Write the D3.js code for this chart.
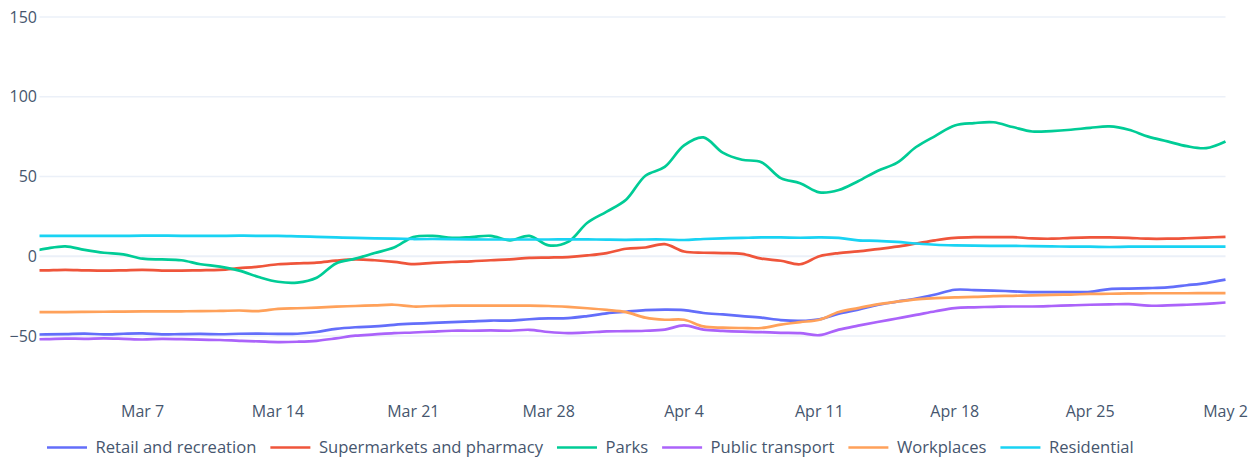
<!DOCTYPE html>
<html>
<head>
<meta charset="utf-8">
<script src="https://cdn.jsdelivr.net/npm/d3@7"></script>
<style>
  body { margin: 0; background: #fff; }
  text { font-family: "Open Sans", sans-serif; }
</style>
</head>
<body>
<script>
'use strict';

var width = 1260,
    height = 460;

// daily values, Mar 1 .. May 2 2020
var startDate = new Date(2020, 2, 1);

var seriesNames = ["Retail and recreation", "Supermarkets and pharmacy", "Parks",
                   "Public transport", "Workplaces", "Residential"];
var seriesColors = ["#636efa", "#ef553b", "#00cc96", "#ab63fa", "#ffa15a", "#19d3f3"];

var retail = [-49.2, -49, -48.8, -48.5, -49, -48.6, -48.4, -49, -48.8, -48.7,
  -48.9, -48.6, -48.5, -48.7, -48.6, -47.5, -45.5, -44.5, -44, -43,
  -42.3, -41.8, -41.3, -40.8, -40.3, -40.3, -39.5, -39, -38.8, -37.5,
  -35.8, -34.8, -33.8, -33.5, -33.8, -35.6, -36.5, -37.5, -38.5, -40,
  -40.5, -39.5, -36, -33.5, -30.5, -28.5, -26.5, -24, -21, -21.2,
  -21.5, -22, -22.5, -22.5, -22.5, -22.3, -20.6, -20.3, -20, -19.5,
  -18.2, -16.8, -14.7];

var grocery = [-9, -8.8, -8.5, -8.8, -9, -8.8, -8.5, -9, -9, -8.8,
  -8.5, -7.5, -6.5, -5, -4.5, -4, -2.8, -2, -2.5, -3.5,
  -4.9, -4.2, -3.6, -3.2, -2.5, -2, -1, -0.8, -0.5, 0.5,
  2, 4.7, 5.5, 7.6, 3, 2.2, 2, 1.5, -1.5, -2.8,
  -5, 0, 2, 3, 4.5, 6, 8, 10, 11.5, 12,
  12, 12, 11.2, 11, 11.5, 11.8, 11.8, 11.5, 11, 11,
  11.3, 11.7, 12.2];

var parks = [2.5, 4.8, 6.2, 4, 2.2, 1.2, -1.5, -2, -2.5, -5,
  -6.5, -9, -13, -16, -16.5, -13.5, -4.5, -1.5, 2, 5.5,
  12, 12.8, 11.5, 12, 12.8, 10, 12.8, 6.8, 9, 21,
  28, 35.4, 50.5, 56, 69.5, 74.5, 65, 60.5, 59, 49,
  45.8, 40, 41.5, 47, 53.5, 58.5, 68.5, 75.5, 82, 83.5,
  84, 81, 78.2, 78.5, 79.3, 80.5, 81.4, 79.3, 75, 72,
  69, 67.8, 72];

var transit = [-52, -52, -51.6, -51.8, -51.5, -51.8, -52.2, -51.8, -52, -52.3,
  -52.5, -53, -53.4, -53.8, -53.6, -53, -51.5, -49.8, -49, -48.2,
  -47.8, -47.2, -46.7, -46.7, -46.5, -46.7, -46.1, -47.5, -48.2, -47.8,
  -47.1, -47, -46.7, -46, -43.4, -46, -46.8, -47.3, -47.6, -48,
  -48.2, -49.5, -46, -43.5, -41.2, -39, -36.8, -34.5, -32.5, -32,
  -31.7, -31.5, -31.5, -31.2, -30.8, -30.4, -30.2, -30, -31, -30.8,
  -30.4, -29.8, -29];

var workplaces = [-35, -35, -35, -34.9, -34.8, -34.7, -34.6, -34.5, -34.5, -34.4,
  -34.3, -34, -34.4, -33, -32.6, -32.2, -31.6, -31.2, -30.8, -30.4,
  -31.5, -31.2, -31, -30.9, -30.9, -31, -31, -31.2, -31.8, -32.6,
  -33.6, -35, -38.5, -39.8, -39.8, -44, -44.8, -45, -45, -42.9,
  -41.3, -39.8, -35, -32.5, -30.2, -28.5, -27, -26.3, -25.8, -25.5,
  -25, -24.8, -24.5, -24.2, -24, -23.6, -23.5, -23.3, -23.2, -23.2,
  -23.2, -23.1, -23.1];

var residential = [12.8, 12.8, 12.8, 12.8, 12.8, 12.8, 12.9, 12.9, 12.8, 12.8,
  12.8, 12.9, 12.8, 12.8, 12.5, 12.2, 11.8, 11.5, 11.2, 11,
  10.8, 10.8, 10.7, 10.6, 10.5, 10.5, 10.5, 10.5, 10.6, 10.6,
  10.4, 10.3, 10.5, 10.5, 10.2, 10.8, 11.2, 11.5, 11.8, 11.8,
  11.6, 11.8, 11.5, 10, 9.7, 9, 8, 7.2, 6.8, 6.6,
  6.5, 6.5, 6.3, 6.2, 6, 6, 5.8, 6, 6, 6,
  6, 6, 6];

var seriesValues = [retail, grocery, parks, transit, workplaces, residential];
var yTicks = [-50, 0, 50, 100, 150];

var dates = retail.map(function(v, i) { return d3.timeDay.offset(startDate, i); });

var svg = d3.select("body").append("svg")
    .attr("width", width)
    .attr("height", height);

// visible x range starts part way into Mar 1
var x = d3.scaleTime()
    .domain([new Date(2020, 2, 1, 16), new Date(2020, 4, 2)])
    .range([39.5, 1225.5]);

var y = d3.scaleLinear()
    .domain([-50, 150])
    .range([336, 17]);

var textColor = "#46566e";

// grid
svg.append("g")
    .selectAll("line")
    .data(yTicks)
    .enter().append("line")
        .attr("x1", x.range()[0])
        .attr("x2", x.range()[1])
        .attr("y1", function(d) { return y(d); })
        .attr("y2", function(d) { return y(d); })
        .attr("stroke", "#ebf0f8")
        .attr("stroke-width", function(d) { return d === 0 ? 2 : 1.3; });

// y labels
svg.append("g")
    .selectAll("text")
    .data(yTicks)
    .enter().append("text")
        .attr("x", 37)
        .attr("y", function(d) { return y(d); })
        .attr("dy", "0.35em")
        .attr("text-anchor", "end")
        .attr("fill", textColor)
        .style("font-size", "16px")
        .text(function(d) { return d < 0 ? "\u2212" + Math.abs(d) : d; });

// x labels
var xTicks = d3.timeSaturday.range(new Date(2020, 2, 2), new Date(2020, 4, 3));
svg.append("g")
    .selectAll("text")
    .data(xTicks)
    .enter().append("text")
        .attr("x", function(d) { return x(d); })
        .attr("y", 411)
        .attr("dy", "0.35em")
        .attr("text-anchor", "middle")
        .attr("fill", textColor)
        .style("font-size", "16px")
        .text(d3.timeFormat("%b %-d"));

svg.append("clipPath")
    .attr("id", "plot-clip")
  .append("rect")
    .attr("x", x.range()[0])
    .attr("y", 0)
    .attr("width", x.range()[1] - x.range()[0] + 2)
    .attr("height", 400);

var line = d3.line()
    .x(function(d, i) { return x(dates[i]); })
    .y(function(d) { return y(d); })
    .curve(d3.curveCatmullRom.alpha(0.5));

svg.append("g")
    .attr("clip-path", "url(#plot-clip)")
    .selectAll("path")
    .data(seriesValues)
    .enter().append("path")
        .attr("d", line)
        .attr("fill", "none")
        .attr("stroke", function(d, i) { return seriesColors[i]; })
        .attr("stroke-width", 2.7)
        .attr("stroke-linejoin", "round");

// legend
var legend = svg.append("g");
var lx = 47;
seriesNames.forEach(function(name, i) {
  legend.append("line")
      .attr("x1", lx)
      .attr("x2", lx + 40)
      .attr("y1", 447.5)
      .attr("y2", 447.5)
      .attr("stroke", seriesColors[i])
      .attr("stroke-width", 2.7);
  var t = legend.append("text")
      .attr("x", lx + 48.5)
      .attr("y", 447.5)
      .attr("dy", "0.35em")
      .attr("fill", textColor)
      .style("font-size", "16.6px")
      .text(name);
  lx += 48.5 + t.node().getComputedTextLength() + 14;
});
</script>
</body>
</html>
